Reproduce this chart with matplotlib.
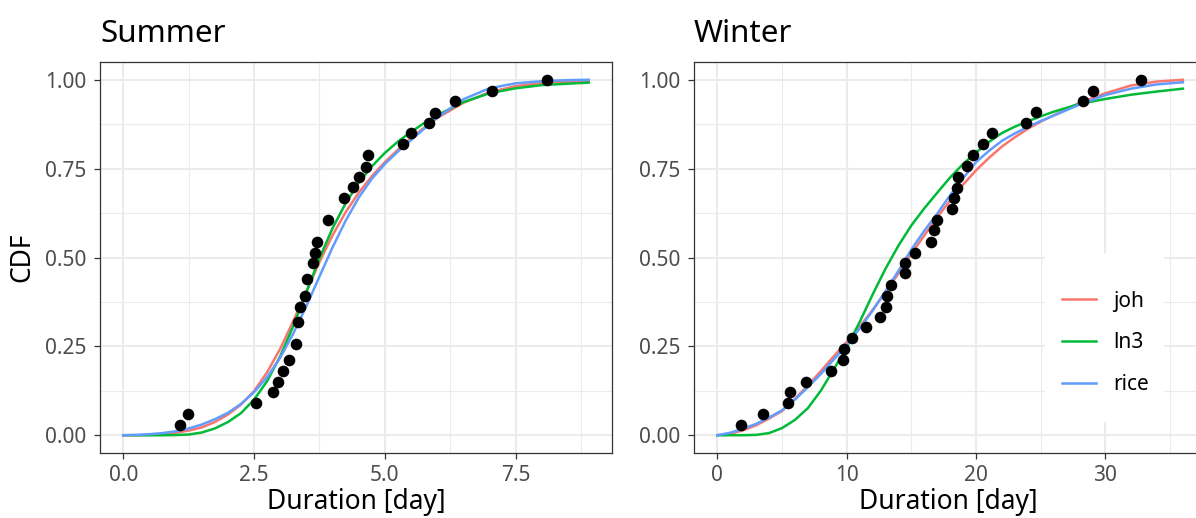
import numpy as np
import matplotlib.pyplot as plt
from matplotlib.patches import Rectangle

plt.rcParams['font.family'] = ['Noto Sans', 'DejaVu Sans']

# -----------------------------
# Dados - verao (Summer)
# -----------------------------
x_summer = [1.08, 1.24, 2.54, 2.87, 2.96, 3.05, 3.17, 3.30, 3.34, 3.38,
            3.47, 3.51, 3.63, 3.67, 3.70, 3.92, 4.22, 4.39, 4.51, 4.64,
            4.67, 5.34, 5.51, 5.85, 5.97, 6.35, 7.06, 8.10]
cdf_summer = [0.029, 0.061, 0.092, 0.122, 0.151, 0.180, 0.211, 0.257, 0.318, 0.362,
              0.393, 0.439, 0.484, 0.514, 0.545, 0.606, 0.666, 0.697, 0.727, 0.756,
              0.787, 0.818, 0.849, 0.878, 0.907, 0.939, 0.969, 1.000]

xs_curve = [0.0, 0.25, 0.5, 0.75, 1.0, 1.25, 1.5, 1.75, 2.0, 2.25, 2.5, 2.75,
            3.0, 3.25, 3.5, 3.75, 4.0, 4.25, 4.5, 4.75, 5.0, 5.25, 5.5, 5.75,
            6.0, 6.5, 7.0, 7.5, 8.0, 8.5, 8.9]
joh_summer = [0.0, 0.0, 0.001, 0.003, 0.007, 0.013, 0.022, 0.037, 0.058, 0.086,
              0.124, 0.177, 0.243, 0.321, 0.404, 0.487, 0.562, 0.627, 0.682, 0.728,
              0.768, 0.803, 0.835, 0.865, 0.892, 0.935, 0.965, 0.982, 0.991, 0.995, 0.997]
ln3_summer = [0.0, 0.0, 0.0, 0.0, 0.0005, 0.002, 0.0075, 0.019, 0.037, 0.062,
              0.100, 0.152, 0.222, 0.307, 0.402, 0.497, 0.582, 0.652, 0.710, 0.756,
              0.794, 0.826, 0.853, 0.878, 0.900, 0.937, 0.962, 0.976, 0.985, 0.989, 0.992]
rice_summer = [0.0, 0.001, 0.003, 0.006, 0.011, 0.019, 0.030, 0.045, 0.063, 0.088,
               0.121, 0.163, 0.218, 0.286, 0.363, 0.446, 0.528, 0.603, 0.668, 0.721,
               0.763, 0.798, 0.830, 0.862, 0.893, 0.945, 0.976, 0.990, 0.996, 0.999, 1.0]

# -----------------------------
# Dados - inverno (Winter)
# -----------------------------
x_winter = [1.81, 3.56, 5.50, 5.60, 6.84, 8.81, 9.71, 9.81, 10.43, 11.49,
            12.55, 13.04, 13.14, 13.40, 14.48, 14.54, 15.26, 16.50, 16.76, 16.96,
            18.18, 18.28, 18.51, 18.59, 19.28, 19.75, 20.52, 21.27, 23.90, 24.63,
            28.30, 29.04, 32.76]
cdf_winter = [0.029, 0.061, 0.092, 0.122, 0.151, 0.182, 0.213, 0.243, 0.273, 0.304,
              0.334, 0.362, 0.393, 0.423, 0.455, 0.484, 0.514, 0.545, 0.576, 0.606,
              0.636, 0.666, 0.696, 0.727, 0.757, 0.787, 0.818, 0.849, 0.878, 0.908,
              0.939, 0.969, 1.000]

xw_curve = [0, 1, 2, 3, 4, 5, 6, 7, 8, 9, 10, 11, 12, 13, 14, 15, 16, 17, 18, 19,
            20, 21, 22, 23, 24, 25, 26, 28, 30, 32, 34, 36]
joh_winter = [0.0, 0.004, 0.014, 0.028, 0.047, 0.068, 0.102, 0.140, 0.180, 0.222,
              0.262, 0.305, 0.352, 0.402, 0.455, 0.510, 0.562, 0.613, 0.660, 0.705,
              0.745, 0.780, 0.812, 0.838, 0.862, 0.882, 0.900, 0.935, 0.962, 0.984,
              0.995, 1.0]
ln3_winter = [0.0, 0.0, 0.0, 0.001, 0.006, 0.020, 0.043, 0.076, 0.125, 0.185,
              0.247, 0.318, 0.395, 0.468, 0.533, 0.590, 0.638, 0.682, 0.725, 0.763,
              0.795, 0.825, 0.850, 0.868, 0.883, 0.897, 0.910, 0.932, 0.946, 0.958,
              0.967, 0.975]
rice_winter = [0.0, 0.007, 0.018, 0.032, 0.050, 0.070, 0.100, 0.135, 0.172, 0.213,
               0.253, 0.300, 0.350, 0.405, 0.462, 0.522, 0.575, 0.623, 0.675, 0.723,
               0.768, 0.800, 0.828, 0.849, 0.867, 0.884, 0.899, 0.930, 0.957, 0.975,
               0.987, 0.993]

cores = {"joh": "#F8766D", "ln3": "#00BA38", "rice": "#619CFF"}

W, H = 1196, 518


def painel(ax, xc, curvas, xp, yp, xlim, xticks, xticklabels, minor_x):
    for nome, y in curvas:
        ax.plot(xc, y, color=cores[nome], lw=1.8, label=nome, zorder=3)
    ax.scatter(xp, yp, s=70, color="black", zorder=4, linewidths=0)

    ax.set_xlim(*xlim)
    ax.set_ylim(-0.05, 1.05)
    ax.set_xticks(xticks)
    ax.set_xticklabels(xticklabels)
    ax.set_xticks(minor_x, minor=True)
    ax.set_yticks([0, 0.25, 0.5, 0.75, 1.0])
    ax.set_yticklabels(["0.00", "0.25", "0.50", "0.75", "1.00"])
    ax.set_yticks([0.125, 0.375, 0.625, 0.875], minor=True)

    ax.grid(which="major", color="#EBEBEB", lw=1.5)
    ax.grid(which="minor", color="#EBEBEB", lw=0.8)
    ax.set_axisbelow(True)

    for s in ax.spines.values():
        s.set_color("#333333")
        s.set_linewidth(0.9)
    ax.tick_params(which="major", length=4.3, width=0.9, color="#333333",
                   labelcolor="#4D4D4D", labelsize=15)
    ax.tick_params(axis="x", pad=4)
    ax.tick_params(axis="y", pad=5.5)
    ax.tick_params(which="minor", length=0)


fig = plt.figure(figsize=(W / 100, H / 100), dpi=100)

ax1 = fig.add_axes([100 / W, 1 - 453 / H, 512 / W, 391 / H])
painel(ax1, xs_curve,
       [("joh", joh_summer), ("ln3", ln3_summer), ("rice", rice_summer)],
       x_summer, cdf_summer, (-0.445, 9.345),
       [0, 2.5, 5, 7.5], ["0.0", "2.5", "5.0", "7.5"], [1.25, 3.75, 6.25, 8.75])

ax2 = fig.add_axes([694 / W, 1 - 453 / H, 507 / W, 391 / H])
painel(ax2, xw_curve,
       [("joh", joh_winter), ("ln3", ln3_winter), ("rice", rice_winter)],
       x_winter, cdf_winter, (-1.8, 37.4),
       [0, 10, 20, 30], ["0", "10", "20", "30"], [5, 15, 25, 35])

# caixa branca da legenda
ax2.add_patch(Rectangle((1045 / W, 1 - 422 / H), 119 / W, 169 / H,
                        transform=fig.transFigure, facecolor="white",
                        edgecolor="none", zorder=1))
ax2.legend(loc="center left", bbox_to_anchor=(1062 / W, 1 - 343 / H),
           bbox_transform=fig.transFigure, frameon=False, fontsize=15,
           handlelength=1.65, handletextpad=0.8, labelspacing=1.0,
           borderpad=0, borderaxespad=0)

fig.text(100 / W, 1 - 42 / H, "Summer", fontsize=22.5, va="baseline", ha="left")
fig.text(694 / W, 1 - 42 / H, "Winter", fontsize=22.5, va="baseline", ha="left")
fig.text(356 / W, 1 - 509 / H, "Duration [day]", fontsize=19, va="baseline", ha="center")
fig.text(948 / W, 1 - 509 / H, "Duration [day]", fontsize=19, va="baseline", ha="center")
fig.text(22.5 / W, 1 - 257.5 / H, "CDF", fontsize=19, rotation=90, va="center", ha="center")

fig.savefig("out.png", dpi=100)
